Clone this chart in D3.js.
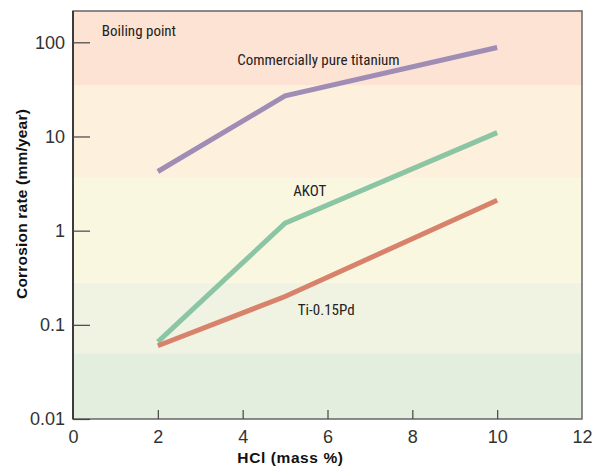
<!DOCTYPE html>
<html>
<head>
<meta charset="utf-8">
<script src="https://cdn.jsdelivr.net/npm/d3@7"></script>
<style>
  body { margin: 0; background: #fff; }
  text { font-family: "Liberation Sans Narrow", "Roboto Condensed", Roboto, "Liberation Sans", sans-serif; }
</style>
</head>
<body>
<svg id="chart" width="592" height="470"></svg>
<script>
// data
const hcl = [2, 5, 10];
const pureTi = [4.25, 27, 88];
const akot = [0.066, 1.2, 11];
const tiPd = [0.06, 0.2, 2.1];

const xTicks = [0, 2, 4, 6, 8, 10, 12];
const yTicks = [0.01, 0.1, 1, 10, 100];

// background zones (corrosion rate limits)
const bandEdges = [0.01, 0.05, 0.28, 3.6, 35, 215];
const bandColors = ["#e3eedf", "#f0f3e2", "#faf7e0", "#fdf0dc", "#fde3d3"];

const seriesNames = ["Commercially pure titanium", "AKOT", "Ti-0.15Pd"];
const seriesValues = [pureTi, akot, tiPd];
const seriesColors = ["#a08db6", "#8cc5a3", "#d9826b"];
// label anchor in data units [x, y]
const labelPos = [[3.87, 57], [5.19, 2.35], [5.3, 0.128]];

const svg = d3.select("#chart");
const margin = { top: 11, right: 10, bottom: 51, left: 73 };
const width = +svg.attr("width");
const height = +svg.attr("height");
const innerWidth = width - margin.left - margin.right;
const innerHeight = height - margin.top - margin.bottom;

const xScale = d3.scaleLinear().domain([0, 12]).range([0, innerWidth]);
const yScale = d3.scaleLog().domain([0.01, 215]).range([innerHeight, 0]);

const g = svg.append("g")
  .attr("transform", `translate(${margin.left},${margin.top})`);

//background bands
g.selectAll("rect.band")
  .data(bandColors)
  .enter()
  .append("rect")
  .attr("class", "band")
  .attr("x", 0)
  .attr("width", innerWidth)
  .attr("y", (d, i) => yScale(bandEdges[i + 1]))
  .attr("height", (d, i) => yScale(bandEdges[i]) - yScale(bandEdges[i + 1]))
  .attr("fill", (d) => d);

//frame
g.append("rect")
  .attr("width", innerWidth)
  .attr("height", innerHeight)
  .attr("fill", "none")
  .attr("stroke", "#666")
  .attr("stroke-width", 1.5);
g.append("line")
  .attr("x1", 0).attr("x2", 0)
  .attr("y1", 0).attr("y2", innerHeight)
  .attr("stroke", "#222").attr("stroke-width", 1.5);

const tickFont = "'Liberation Sans', Arial, sans-serif";

//axes
const yAxis = d3.axisRight(yScale)
  .tickValues(yTicks)
  .tickFormat((d) => d3.format("~g")(d))
  .tickSize(17);
const yAxisG = g.append("g").call(yAxis);
yAxisG.select(".domain").remove();
yAxisG.selectAll(".tick line").attr("stroke", "#444").attr("stroke-width", 1.2);
yAxisG.selectAll(".tick text")
  .attr("x", -8)
  .attr("text-anchor", "end")
  .attr("fill", "#333")
  .style("font-size", "18px")
  .style("font-family", tickFont);

const xAxis = d3.axisTop(xScale).tickValues(xTicks).tickSize(9);
const xAxisG = g.append("g")
  .attr("transform", `translate(0,${innerHeight})`)
  .call(xAxis);
xAxisG.select(".domain").remove();
xAxisG.selectAll(".tick line").attr("stroke", "#444").attr("stroke-width", 1.2);
xAxisG.selectAll(".tick").filter((d) => d === 0 || d === 12).select("line").remove();
xAxisG.selectAll(".tick text")
  .attr("y", 24)
  .attr("dy", "0")
  .attr("fill", "#333")
  .style("font-size", "18px")
  .style("font-family", tickFont);

//axis titles
svg.append("text")
  .attr("x", margin.left + innerWidth / 2 - 37)
  .attr("y", 463)
  .attr("text-anchor", "middle")
  .style("font-weight", "bold")
  .style("font-size", "15.5px")
  .style("letter-spacing", "0.6px")
  .style("font-family", tickFont)
  .attr("fill", "#111")
  .text("HCl (mass %)");

svg.append("text")
  .attr("transform", "translate(27,204) rotate(-90)")
  .attr("text-anchor", "middle")
  .style("font-weight", "bold")
  .style("font-size", "15.5px")
  .style("letter-spacing", "0.2px")
  .style("font-family", tickFont)
  .attr("fill", "#111")
  .text("Corrosion rate (mm/year)");

//lines
const lineGenerator = d3.line()
  .x((d) => xScale(d[0]))
  .y((d) => yScale(d[1]));

g.selectAll("path.series")
  .data(seriesValues)
  .enter()
  .append("path")
  .attr("class", "series")
  .attr("d", (vals) => lineGenerator(hcl.map((h, i) => [h, vals[i]])))
  .attr("fill", "none")
  .attr("stroke", (d, i) => seriesColors[i])
  .attr("stroke-width", 5);

//series labels
g.selectAll("text.label")
  .data(seriesNames)
  .enter()
  .append("text")
  .attr("class", "label")
  .attr("x", (d, i) => xScale(labelPos[i][0]))
  .attr("y", (d, i) => yScale(labelPos[i][1]))
  .attr("fill", "#222")
  .style("font-size", "15px")
  .text((d) => d);

g.append("text")
  .attr("x", xScale(0.68))
  .attr("y", yScale(118))
  .attr("fill", "#222")
  .style("font-size", "15px")
  .text("Boiling point");
</script>
</body>
</html>
